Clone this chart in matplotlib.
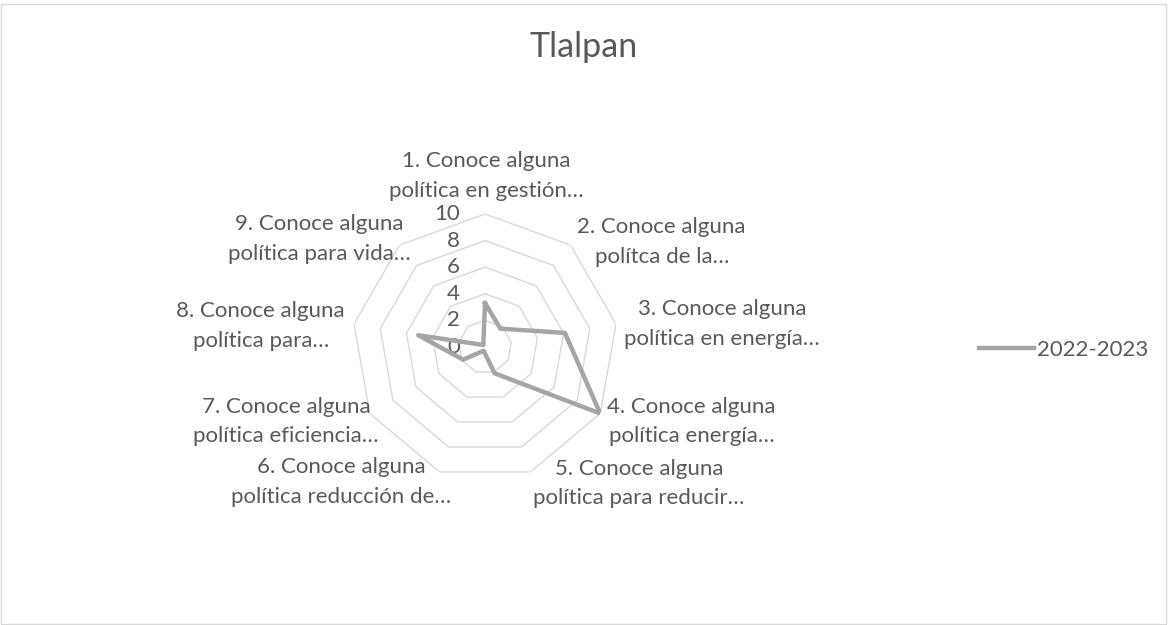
"""Radar chart: Tlalpan policy awareness, 2022-2023."""

import matplotlib

matplotlib.use("Agg")
import matplotlib.pyplot as plt
import numpy as np
from matplotlib.lines import Line2D
from matplotlib.patches import Rectangle

TITLE = "Tlalpan"
SERIES_NAME = "2022-2023"
CATEGORIES = [
    "1. Conoce alguna\npolítica en gestión…",
    "2. Conoce alguna\npolítca de la…",
    "3. Conoce alguna\npolítica en energía…",
    "4. Conoce alguna\npolítica energía…",
    "5. Conoce alguna\npolítica para reducir…",
    "6. Conoce alguna\npolítica reducción de…",
    "7. Conoce alguna\npolítica eficiencia…",
    "8. Conoce alguna\npolítica para…",
    "9. Conoce alguna\npolítica para vida…",
]
VALUES = [3.3, 1.8, 6.1, 10, 2.1, 0.3, 1.9, 5.1, 0.2]
RADIAL_TICKS = [0, 2, 4, 6, 8, 10]

TEXT_COLOR = "#595959"
GRID_COLOR = "#d9d9d9"
LINE_COLOR = "#a5a5a5"

plt.rcParams["font.family"] = ["Lato", "DejaVu Sans"]

W, H = 1168, 625
CX, CY, R = 485, 347, 133

fig = plt.figure(figsize=(W / 100, H / 100), dpi=100)
ax = fig.add_axes(
    [(CX - R) / W, (H - CY - R) / H, 2 * R / W, 2 * R / H], projection="polar"
)
ax.set_theta_zero_location("N")
ax.set_theta_direction(-1)
ax.set_ylim(0, 10)
ax.grid(False)
ax.spines["polar"].set_visible(False)
ax.set_xticks([])
ax.set_yticks([])
ax.patch.set_alpha(0)

n = len(CATEGORIES)
angles = np.linspace(0, 2 * np.pi, n, endpoint=False)
closed = np.append(angles, angles[0])

# polygon grid rings
for r in RADIAL_TICKS[1:]:
    ax.plot(closed, [r] * (n + 1), color=GRID_COLOR, lw=1, zorder=1)

ax.plot(closed, VALUES + VALUES[:1], color=LINE_COLOR, lw=3.2, zorder=3)

for r in RADIAL_TICKS:
    ax.annotate(str(r), xy=(0, r), xytext=(-25, 0), textcoords="offset pixels",
                ha="right", va="center", fontsize=16, color=TEXT_COLOR, zorder=2)

# label placement: (dx, dy, ha, va) in pixels from the outer vertex
label_pos = [
    (1, 38, "center", "center"),
    (7, 3, "left", "center"),
    (8, 0, "left", "center"),
    (7, -8, "left", "center"),
    (3, -11.5, "left", "center"),
    (12, -10, "right", "center"),
    (9, -8, "right", "center"),
    (-9, -2, "right", "center"),
    (11, 6.5, "right", "center"),
]
for ang, label, (dx, dy, ha, va) in zip(angles, CATEGORIES, label_pos):
    ax.annotate(label, xy=(ang, 10), xytext=(dx, dy), textcoords="offset pixels",
                ha=ha, va=va, multialignment="center", fontsize=16,
                color=TEXT_COLOR, linespacing=1.62, annotation_clip=False)

fig.text(0.5, 1 - 47 / H, TITLE, ha="center", va="center", fontsize=24.5,
         color=TEXT_COLOR)

handle = Line2D([], [], color=LINE_COLOR, lw=3.2)
fig.legend([handle], [SERIES_NAME], loc="center left",
           bbox_to_anchor=(979 / W, 1 - 350 / H), frameon=False,
           borderpad=0, borderaxespad=0, handlelength=2.47,
           handletextpad=0.13, fontsize=16, labelcolor=TEXT_COLOR)

fig.add_artist(Rectangle((1 / W, 1 / H), 1 - 3 / W, 1 - 5 / H,
                         transform=fig.transFigure, fill=False,
                         edgecolor=GRID_COLOR, lw=1))

fig.savefig("out.png", dpi=100)
